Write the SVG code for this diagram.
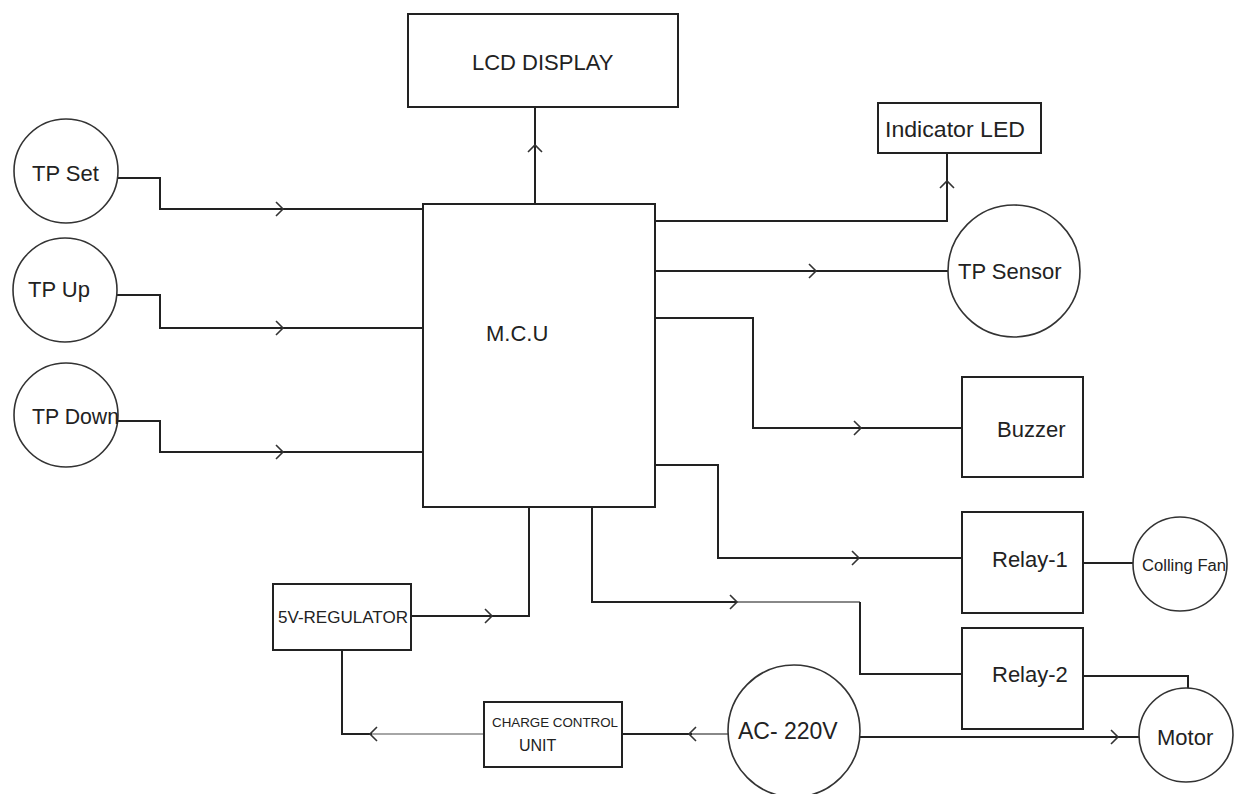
<svg xmlns="http://www.w3.org/2000/svg" width="1240" height="794" viewBox="0 0 1240 794">
<style>
.box{fill:#fff;stroke:#222;stroke-width:2}
.circ{fill:#fff;stroke:#333;stroke-width:1.6}
.ln{fill:none;stroke:#222;stroke-width:2}
.gl{fill:none;stroke:#888;stroke-width:2}
.ar{fill:none;stroke:#333;stroke-width:1.6}
text{font-family:"Liberation Sans",Arial,sans-serif;fill:#222}
.t22{font-size:22px}
</style>
<rect width="1240" height="794" fill="#fff"/>
<g id="connectors">
  <polyline class="ln" points="118,178 160,178 160,209 423,209"/>
  <polyline class="ln" points="117,295 160,295 160,328 423,328"/>
  <polyline class="ln" points="117,421 160,421 160,452 423,452"/>
  <line class="ln" x1="535" y1="107" x2="535" y2="204"/>
  <polyline class="ln" points="655,221 947,221 947,153"/>
  <line class="ln" x1="655" y1="271" x2="948" y2="271"/>
  <polyline class="ln" points="655,318 753,318 753,428 962,428"/>
  <polyline class="ln" points="655,465 718,465 718,558 962,558"/>
  <polyline class="ln" points="592,507 592,602 737,602"/>
  <line class="gl" x1="737" y1="602" x2="860" y2="602"/>
  <polyline class="ln" points="860,602 860,674 962,674"/>
  <polyline class="ln" points="529,507 529,616 411,616"/>
  <polyline class="ln" points="342,650 342,734 372,734"/>
  <line class="gl" x1="372" y1="734" x2="484" y2="734" style="stroke-width:1.6"/>
  <line class="ln" x1="622" y1="734" x2="692" y2="734"/>
  <line class="gl" x1="692" y1="734" x2="728" y2="734"/>
  <line class="ln" x1="860" y1="737" x2="1139" y2="737"/>
  <line class="ln" x1="1083" y1="563" x2="1134" y2="563"/>
  <polyline class="ln" points="1083,676 1188,676 1188,688"/>
  <!-- chevrons -->
  <polyline class="ar" points="276,202 283,209 276,216"/>
  <polyline class="ar" points="276,321 283,328 276,335"/>
  <polyline class="ar" points="276,445 283,452 276,459"/>
  <polyline class="ar" points="528,152 535,145 542,152"/>
  <polyline class="ar" points="940,188 947,181 954,188"/>
  <polyline class="ar" points="809,264 816,271 809,278"/>
  <polyline class="ar" points="854,421 861,428 854,435"/>
  <polyline class="ar" points="852,551 859,558 852,565"/>
  <polyline class="ar" points="730,595 737,602 730,609"/>
  <polyline class="ar" points="485,609 492,616 485,623"/>
  <polyline class="ar" points="377,727 370,734 377,741"/>
  <polyline class="ar" points="696,727 689,734 696,741"/>
  <polyline class="ar" points="1111,730 1118,737 1111,744"/>
</g>
<g id="tp-set"><circle class="circ" cx="66" cy="171" r="52"/><text class="t22" x="32" y="181">TP Set</text></g>
<g id="tp-up"><circle class="circ" cx="65" cy="290" r="52"/><text class="t22" x="28" y="297">TP Up</text></g>
<g id="tp-down"><circle class="circ" cx="66" cy="415" r="52"/><text class="t22" x="32" y="424" textLength="87" lengthAdjust="spacingAndGlyphs">TP Down</text></g>
<g id="lcd"><rect class="box" x="408" y="14" width="270" height="93"/><text class="t22" x="472" y="70">LCD DISPLAY</text></g>
<g id="mcu"><rect class="box" x="423" y="204" width="232" height="303"/><text class="t22" x="486" y="341">M.C.U</text></g>
<g id="indicator-led"><rect class="box" x="878" y="103" width="163" height="50"/><text class="t22" x="885" y="137" textLength="140" lengthAdjust="spacingAndGlyphs">Indicator LED</text></g>
<g id="tp-sensor"><circle class="circ" cx="1014" cy="271" r="66"/><text class="t22" x="958" y="279">TP Sensor</text></g>
<g id="buzzer"><rect class="box" x="962" y="377" width="121" height="100"/><text class="t22" x="997" y="437">Buzzer</text></g>
<g id="relay-1"><rect class="box" x="962" y="512" width="121" height="101"/><text class="t22" x="992" y="567">Relay-1</text></g>
<g id="relay-2"><rect class="box" x="962" y="628" width="121" height="101"/><text class="t22" x="992" y="682">Relay-2</text></g>
<g id="cooling-fan"><circle class="circ" cx="1180" cy="564" r="47"/><text x="1142" y="571" style="font-size:16px" textLength="84" lengthAdjust="spacingAndGlyphs">Colling Fan</text></g>
<g id="motor"><circle class="circ" cx="1186" cy="735" r="47"/><text class="t22" x="1157" y="745">Motor</text></g>
<g id="ac-220v"><circle class="circ" cx="794" cy="731" r="66"/><text x="738" y="739" style="font-size:23px">AC- 220V</text></g>
<g id="regulator"><rect class="box" x="273" y="584" width="138" height="66"/><text x="278" y="623" style="font-size:16px" textLength="130" lengthAdjust="spacingAndGlyphs">5V-REGULATOR</text></g>
<g id="charge-control"><rect class="box" x="484" y="702" width="138" height="65"/><text x="492" y="727" style="font-size:13px" textLength="126" lengthAdjust="spacingAndGlyphs">CHARGE CONTROL</text><text x="519" y="751" style="font-size:16px">UNIT</text></g>
</svg>
